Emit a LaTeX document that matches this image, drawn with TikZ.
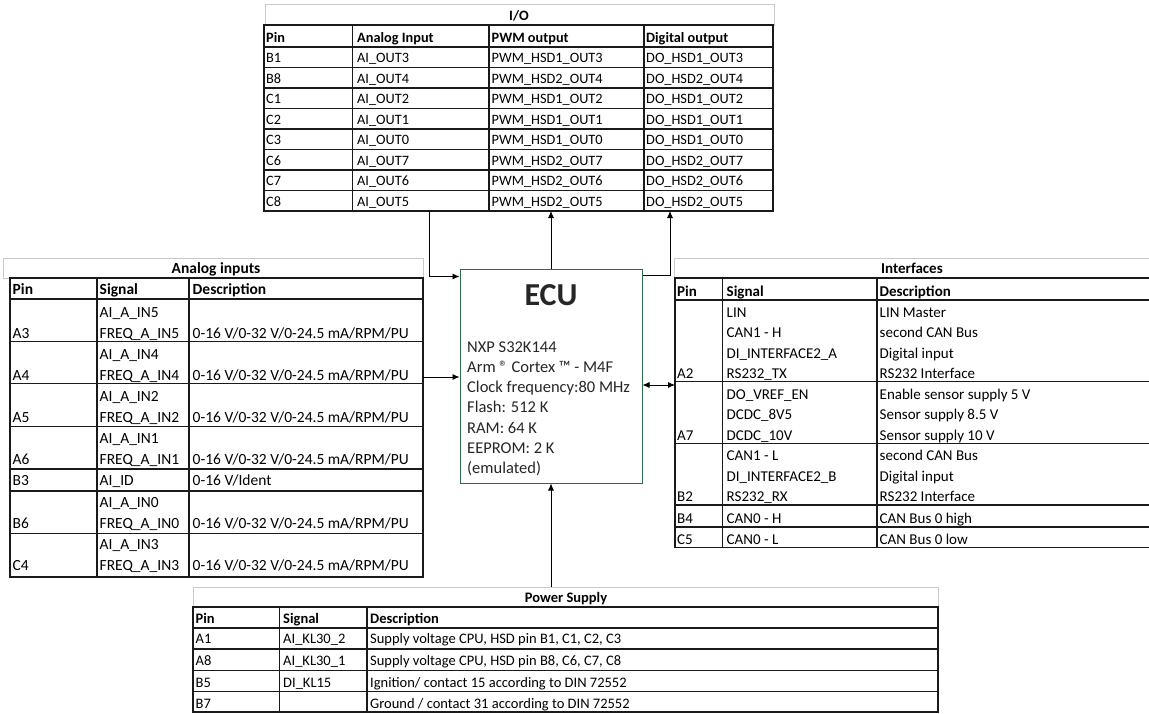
\documentclass[tikz,border=0pt]{standalone}
\usepackage{fontspec}
\setmainfont{Carlito}
\usetikzlibrary{arrows.meta}
\definecolor{gridc}{HTML}{1A1A1A}
\definecolor{titlegray}{HTML}{CACACA}
\definecolor{ecugreen}{HTML}{2E6B4E}
\newcommand\fio{\fontsize{14.3}{17}\selectfont}
\newcommand\fai{\fontsize{15.5}{18}\selectfont}
\newcommand\fif{\fontsize{15}{18}\selectfont}
\newcommand\fps{\fontsize{14.5}{17}\selectfont}
\newcommand\fecu{\fontsize{16.5}{19}\selectfont}
\newcommand\aidesc{0-16 V/0-32 V/0-24.5 mA/RPM/PU}
\begin{document}
\begin{tikzpicture}[x=1pt,y=-1pt,
  gridline/.style={draw=gridc,line width=1.1pt},
  titlebox/.style={draw=titlegray,line width=0.9pt},
  cell/.style={inner sep=0pt,anchor=base west},
  ttl/.style={inner sep=0pt,anchor=base},
  conn/.style={draw=black,line width=0.8pt},
  arr/.style={conn,-{Latex[length=7pt,width=6pt]}},
  darr/.style={conn,{Latex[length=7pt,width=6pt]}-{Latex[length=7pt,width=6pt]}}]
\useasboundingbox (0,0) rectangle (1149,713);
\fill[white] (0,0) rectangle (1149,713);

% ---------------- I/O table ----------------
\draw[titlebox] (265,4) rectangle (774,25);
\draw[gridline] (264,25) rectangle (773,211);
\foreach \y in {47,67.5,88,108.5,129,149.5,170,190.5}
  \draw[gridline] (264,\y) -- (773,\y);
\foreach \x in {352.5,489,644}
  \draw[gridline] (\x,25) -- (\x,211);
\node[ttl,font=\fio\bfseries] (io-title) at (519,20) {I/O};
\node[cell,font=\fio\bfseries] (io-h1) at (266,42) {Pin};
\node[cell,font=\fio\bfseries] (io-h2) at (357,42) {Analog Input};
\node[cell,font=\fio\bfseries] (io-h3) at (491.5,42) {PWM output};
\node[cell,font=\fio\bfseries] (io-h4) at (646,42) {Digital output};
\foreach \p/\a/\b/\c [count=\i] in {
  B1/AI\_OUT3/PWM\_HSD1\_OUT3/DO\_HSD1\_OUT3,
  B8/AI\_OUT4/PWM\_HSD2\_OUT4/DO\_HSD2\_OUT4,
  C1/AI\_OUT2/PWM\_HSD1\_OUT2/DO\_HSD1\_OUT2,
  C2/AI\_OUT1/PWM\_HSD1\_OUT1/DO\_HSD1\_OUT1,
  C3/AI\_OUT0/PWM\_HSD1\_OUT0/DO\_HSD1\_OUT0,
  C6/AI\_OUT7/PWM\_HSD2\_OUT7/DO\_HSD2\_OUT7,
  C7/AI\_OUT6/PWM\_HSD2\_OUT6/DO\_HSD2\_OUT6,
  C8/AI\_OUT5/PWM\_HSD2\_OUT5/DO\_HSD2\_OUT5}{
  \pgfmathsetmacro\yb{42+20.5*\i}
  \node[cell,font=\fio] (io-p\i) at (266,\yb) {\p};
  \node[cell,font=\fio] (io-a\i) at (357,\yb) {\a};
  \node[cell,font=\fio] (io-b\i) at (491.5,\yb) {\b};
  \node[cell,font=\fio] (io-c\i) at (646,\yb) {\c};
}

% ---------------- Analog inputs table ----------------
\draw[titlebox] (3,258) rectangle (423,278);
\draw[gridline] (10,278) rectangle (423,577);
\foreach \y in {299,341.5,383.5,426.5,469,491,533.5}
  \draw[gridline] (10,\y) -- (423,\y);
\foreach \x in {97,189}
  \draw[gridline] (\x,278) -- (\x,577);
\node[ttl,font=\fai\bfseries] (ai-title) at (216,273.5) {Analog inputs};
\node[cell,font=\fai\bfseries] (ai-h1) at (12.5,294.5) {Pin};
\node[cell,font=\fai\bfseries] (ai-h2) at (99.5,294.5) {Signal};
\node[cell,font=\fai\bfseries] (ai-h3) at (192.5,294.5) {Description};
\foreach \p/\sa/\sb/\yb [count=\i] in {
  A3/AI\_A\_IN5/FREQ\_A\_IN5/338.5,
  A4/AI\_A\_IN4/FREQ\_A\_IN4/380,
  A5/AI\_A\_IN2/FREQ\_A\_IN2/422.5,
  A6/AI\_A\_IN1/FREQ\_A\_IN1/464,
  B6/AI\_A\_IN0/FREQ\_A\_IN0/528,
  C4/AI\_A\_IN3/FREQ\_A\_IN3/570.5}{
  \pgfmathsetmacro\ya{\yb-20.6}
  \node[cell,font=\fai] (ai-p\i) at (12.5,\yb) {\p};
  \node[cell,font=\fai] (ai-s\i) at (99.5,\ya) {\sa};
  \node[cell,font=\fai] (ai-t\i) at (99.5,\yb) {\sb};
  \node[cell,font=\fai] (ai-d\i) at (192.5,\yb) {\aidesc};
}
\node[cell,font=\fai] (ai-pB3) at (12.5,485.5) {B3};
\node[cell,font=\fai] (ai-sB3) at (99.5,485.5) {AI\_ID};
\node[cell,font=\fai] (ai-dB3) at (192.5,485.5) {0-16 V/Ident};

% ---------------- Interfaces table ----------------
\draw[titlebox] (674,258) rectangle (1156,278);
\draw[gridline] (675,278) rectangle (1156,547.5);
\foreach \y in {300,381.5,443.5,505,527}
  \draw[gridline] (675,\y) -- (1156,\y);
\foreach \x in {722.5,877}
  \draw[gridline] (\x,278) -- (\x,547.5);
\node[ttl,font=\fif\bfseries] (if-title) at (912,273.5) {Interfaces};
\node[cell,font=\fif\bfseries] (if-h1) at (677,296) {Pin};
\node[cell,font=\fif\bfseries] (if-h2) at (726.5,296) {Signal};
\node[cell,font=\fif\bfseries] (if-h3) at (879.5,296) {Description};
\foreach \s/\d/\yb [count=\i] in {
  LIN/LIN Master/317,
  CAN1 - H/second CAN Bus/337.5,
  DI\_INTERFACE2\_A/Digital input/358,
  RS232\_TX/RS232 Interface/378.5,
  DO\_VREF\_EN/Enable sensor supply 5 V/399,
  DCDC\_8V5/Sensor supply 8.5 V/419.5,
  DCDC\_10V/Sensor supply 10 V/440,
  CAN1 - L/second CAN Bus/460.5,
  DI\_INTERFACE2\_B/Digital input/481,
  RS232\_RX/RS232 Interface/501.5,
  CAN0 - H/CAN Bus 0 high/523,
  CAN0 - L/CAN Bus 0 low/544}{
  \node[cell,font=\fif] (if-s\i) at (726.5,\yb) {\s};
  \node[cell,font=\fif] (if-d\i) at (879.5,\yb) {\d};
}
\foreach \p/\yb in {A2/378.5,A7/440,B2/501.5,B4/523,C5/544}
  \node[cell,font=\fif] (if-p\p) at (677,\yb) {\p};

% ---------------- Power supply table ----------------
\draw[titlebox] (193,587) rectangle (938,607);
\draw[gridline] (193,607) rectangle (938,712);
\foreach \y in {628,649,670.5,691.5}
  \draw[gridline] (193,\y) -- (938,\y);
\foreach \x in {279.5,367}
  \draw[gridline] (\x,607) -- (\x,712);
\node[ttl,font=\fps\bfseries] (ps-title) at (566,602.5) {Power Supply};
\node[cell,font=\fps\bfseries] (ps-h1) at (195.5,623) {Pin};
\node[cell,font=\fps\bfseries] (ps-h2) at (283,623) {Signal};
\node[cell,font=\fps\bfseries] (ps-h3) at (370,623) {Description};
\node[cell,font=\fps] (ps-p1) at (195.5,643.5) {A1};
\node[cell,font=\fps] (ps-s1) at (283,643.5) {AI\_KL30\_2};
\node[cell,font=\fps] (ps-d1) at (370,643.5) {Supply voltage CPU, HSD pin B1, C1, C2, C3};
\node[cell,font=\fps] (ps-p2) at (195.5,665.5) {A8};
\node[cell,font=\fps] (ps-s2) at (283,665.5) {AI\_KL30\_1};
\node[cell,font=\fps] (ps-d2) at (370,665.5) {Supply voltage CPU, HSD pin B8, C6, C7, C8};
\node[cell,font=\fps] (ps-p3) at (195.5,687) {B5};
\node[cell,font=\fps] (ps-s3) at (283,687) {DI\_KL15};
\node[cell,font=\fps] (ps-d3) at (370,687) {Ignition/ contact 15 according to DIN 72552};
\node[cell,font=\fps] (ps-p4) at (195.5,708) {B7};
\node[cell,font=\fps] (ps-d4) at (370,708) {Ground / contact 31 according to DIN 72552};

% ---------------- ECU ----------------
\node[draw=ecugreen,line width=1pt,minimum width=182pt,minimum height=214pt,inner sep=0pt,fill=white] (ecu) at (551,376) {};
\node[ttl,font=\fontsize{32}{36}\selectfont\bfseries,text=black!85] (ecu-title) at (551,305) {ECU};
\foreach \t [count=\i] in {
  NXP S32K144,
  Arm ® Cortex ™ - M4F,
  Clock frequency:80 MHz,
  Flash: 512 K,
  RAM: 64 K,
  EEPROM: 2 K,
  (emulated)}{
  \pgfmathsetmacro\yb{352+20.3*(\i-1)}
  \node[cell,font=\fecu,text=black!85] (ecu-l\i) at (467,\yb) {\t};
}

% ---------------- connectors ----------------
\coordinate (ioL) at (429,211);
\coordinate (ioM) at (551,211);
\coordinate (ioR) at (670,211);
\coordinate (aiR) at (423,377);
\coordinate (ifL) at (675,385);
\coordinate (psT) at (551,587);
\draw[arr] (ioL) |- ([yshift=-8pt]ecu.north west);
\draw[arr] (ecu.north) -- (ioM);
\draw[arr] ([yshift=-7pt]ecu.north east) -| (ioR);
\draw[arr] (aiR) -- (aiR -| ecu.west);
\draw[darr] (ecu.east |- ifL) -- (ifL);
\draw[arr] (psT) -- (ecu.south);
\end{tikzpicture}
\end{document}
